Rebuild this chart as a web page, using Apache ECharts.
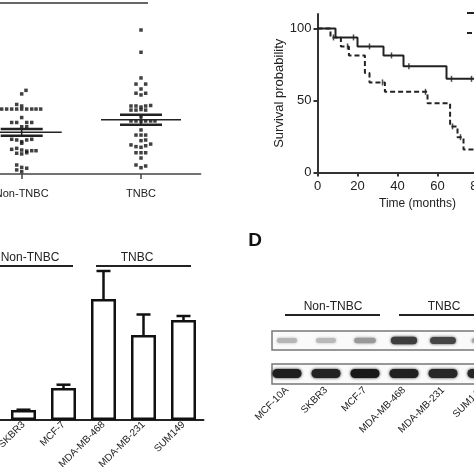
<!DOCTYPE html>
<html><head><meta charset="utf-8">
<script src="https://cdn.jsdelivr.net/npm/echarts@6/dist/echarts.min.js"></script>
<style>html,body{margin:0;padding:0;background:#fff}#c{width:474px;height:474px}</style>
</head><body><div id="c"></div>
<script>
// ---------- Panel A: scatter (relative expression) ----------
const groupsA = ['Non-TNBC', 'TNBC'];
// [jitter (fraction of group spacing), value]
const nonTnbcPoints = [
  [0, 4.71], [0.036, 4.92], [-0.042, 4.09], [0, 4.0],
  [-0.168, 3.82], [-0.126, 3.82], [-0.084, 3.82], [-0.042, 3.82], [0, 3.82], [0.042, 3.82], [0.084, 3.82], [0.12, 3.82], [0.159, 3.82],
  [0, 3.32], [-0.084, 3.03], [-0.042, 3.03], [0.042, 3.03], [0.084, 3.03], [0, 2.78], [0.042, 2.78],
  [-0.084, 2.04], [-0.042, 2.0], [0, 1.9], [0.042, 2.0], [0.084, 2.04], [0, 1.81],
  [-0.084, 1.45], [-0.042, 1.51], [0, 1.41], [0.042, 1.35], [0.084, 1.37], [0.12, 1.37],
  [-0.042, 1.22], [0, 1.18], [0.042, 1.25],
  [-0.042, 0.53], [0, 0.39], [0.042, 0.34], [-0.042, 0.24], [0, 0.14]
];
const tnbcPoints = [
  [0, 8.47], [0, 7.16], [0, 5.65], [-0.042, 5.29], [0.039, 5.29], [0, 5.0],
  [-0.042, 4.75], [0, 4.65], [0.039, 4.75],
  [-0.084, 4.0], [-0.042, 4.0], [0, 3.94], [0.039, 4.0], [0.081, 4.03],
  [-0.084, 3.76], [-0.042, 3.76], [0, 3.79], [0.039, 3.76], [0, 3.37],
  [-0.084, 3.12], [-0.042, 3.12], [0, 3.09], [0.039, 3.12], [0.081, 3.12], [0.117, 3.12],
  [0, 2.59], [-0.042, 2.29], [0, 2.29], [0.039, 2.29], [0, 1.96], [0.039, 2.0],
  [-0.084, 1.71], [-0.042, 1.61], [0, 1.57], [0.039, 1.66], [0.081, 1.76],
  [-0.042, 1.25], [0, 1.25], [0.039, 1.25], [0, 0.94],
  [-0.042, 0.53], [0, 0.37], [0.039, 0.47]
];
const meansA = [2.45, 3.19];
const semsA = [0.2, 0.29];

// ---------- Panel B: Kaplan-Meier ----------
const kmSolid = [[0, 100], [9, 93.75], [20, 87.5], [33, 81.25], [43, 73.8], [64.5, 65], [100, 65]];
const kmDashed = [[0, 100], [6.5, 93.75], [11.7, 87.5], [15.7, 81.25], [23.7, 69], [26, 62.5], [33.7, 56], [55, 48], [66.3, 32], [70, 24.5], [73, 16], [100, 16]];
const censorSolid = [[18, 93.75], [26, 87.5], [37, 81.25], [45.7, 73.8], [67, 65], [77, 65]];
const censorDashed = [[8, 93.75], [15, 87.5], [32.5, 62.5], [54, 56], [67.5, 32], [71.5, 24.5]];
const kmYTicks = [0, 50, 100];
const kmNames = ['Non-TNBC', 'TNBC'];

// ---------- Panel C: bar chart ----------
const cellLinesC = ['MCF-10A', 'SKBR3', 'MCF-7', 'MDA-MB-468', 'MDA-MB-231', 'SUM149'];
const barValues = [1.0, 1.0, 3.2, 12.1, 8.5, 10.0];
const barErrors = [0.1, 0.03, 0.33, 2.8, 2.05, 0.4];

// ---------- Panel D: western blot ----------
const cellLinesD = ['MCF-10A', 'SKBR3', 'MCF-7', 'MDA-MB-468', 'MDA-MB-231', 'SUM149'];
const bandTarget = [0.22, 0.2, 0.36, 0.82, 0.78, 0.28];
const bandLoading = [0.97, 0.95, 1.0, 0.96, 0.93, 0.93];

const FONT = 'Liberation Sans, Arial, sans-serif';
const TXT = '#222';
const AX = '#333';

const chart = echarts.init(document.getElementById('c'), null, {renderer: 'canvas'});

function meanRender(params, api) {
  const c = api.value(0), m = api.value(1), s = api.value(2);
  const pm = api.coord([c, m]);
  const pu = api.coord([c, m + s]);
  const pl = api.coord([c, m - s]);
  const st = {stroke: '#222', lineWidth: 1.5};
  const st2 = {stroke: '#222', lineWidth: 2.5};
  return {type: 'group', children: [
    {type: 'line', shape: {x1: pm[0] - 40, y1: pm[1], x2: pm[0] + 40, y2: pm[1]}, style: st},
    {type: 'line', shape: {x1: pu[0] - 21, y1: pu[1], x2: pu[0] + 21, y2: pu[1]}, style: st2},
    {type: 'line', shape: {x1: pl[0] - 21, y1: pl[1], x2: pl[0] + 21, y2: pl[1]}, style: st2},
    {type: 'line', shape: {x1: pu[0], y1: pu[1], x2: pl[0], y2: pl[1]}, style: st}
  ]};
}
function errRender(params, api) {
  const i = api.value(0), v = api.value(1), e = api.value(2);
  const p0 = api.coord([i, v]);
  const p1 = api.coord([i, v + e]);
  const st = {stroke: '#111', lineWidth: 2.5};
  return {type: 'group', children: [
    {type: 'line', shape: {x1: p0[0], y1: p0[1], x2: p1[0], y2: p1[1]}, style: st},
    {type: 'line', shape: {x1: p1[0] - 7, y1: p1[1], x2: p1[0] + 7, y2: p1[1]}, style: st}
  ]};
}
function bandRender(params, api) {
  const i = api.value(0), row = api.value(1), k = api.value(2);
  const p = api.coord([i, row]);
  const w = row === 0 ? 29 : 18 + 10 * k;
  const h = row === 0 ? 9 : 4 + 4 * k;
  const g = Math.round(225 - 200 * k);
  const col = 'rgb(' + g + ',' + g + ',' + g + ')';
  return {type: 'rect', shape: {x: p[0] - w / 2, y: p[1] - h / 2, width: w, height: h, r: h / 2},
    style: {fill: col, shadowBlur: 3, shadowColor: col}};
}

const option = {
  animation: false,
  backgroundColor: '#fff',
  textStyle: {fontFamily: FONT, color: TXT},
  legend: {
    orient: 'vertical', left: 461, top: 2, itemWidth: 25, itemHeight: 10, itemGap: 8,
    data: kmNames, textStyle: {fontSize: 12, color: TXT, fontFamily: FONT}
  },
  grid: [
    {left: -37.95, right: 273.35, top: 4, bottom: 300, outerBoundsMode: 'none', containLabel: false},
    {left: 317.5, right: -43.5, top: 14, bottom: 301.5, outerBoundsMode: 'none', containLabel: false},
    {left: -36.5, right: 270.5, top: 260, bottom: 54, outerBoundsMode: 'none', containLabel: false},
    {left: 267.5, right: -27.5, top: 340.5, bottom: 100.5, outerBoundsMode: 'none', containLabel: false}
  ],
  xAxis: [
    {gridIndex: 0, type: 'value', min: 0.5, max: 2.5, splitLine: {show: false},
      axisLine: {lineStyle: {color: '#444', width: 1.5}},
      axisTick: {customValues: [1, 2], length: 5, lineStyle: {color: '#444', width: 1.5}},
      axisLabel: {customValues: [1, 2], margin: 14, fontSize: 11, color: TXT, fontFamily: FONT,
        formatter: v => groupsA[Math.round(v) - 1] || ''}},
    {gridIndex: 1, type: 'value', min: 0, max: 100, interval: 20, splitLine: {show: false},
      axisLine: {onZero: false, lineStyle: {color: AX, width: 2}},
      axisTick: {length: 4, lineStyle: {color: AX, width: 2}},
      axisLabel: {margin: 7, fontSize: 13, color: TXT, fontFamily: FONT},
      name: 'Time (months)', nameLocation: 'middle', nameGap: 25,
      nameTextStyle: {fontSize: 12, color: TXT, fontFamily: FONT}},
    {gridIndex: 2, type: 'category', data: cellLinesC, splitLine: {show: false},
      axisLine: {lineStyle: {color: '#222', width: 2}},
      axisTick: {show: false},
      axisLabel: {rotate: 45, margin: 3, padding: [24, 0, 0, 0], fontSize: 10, color: TXT, fontFamily: FONT, interval: 0}},
    {gridIndex: 3, type: 'category', data: cellLinesD, splitLine: {show: false},
      axisLine: {show: false}, axisTick: {show: false},
      axisLabel: {rotate: 45, margin: 15, padding: [8, 0, 0, 0], fontSize: 10, color: TXT, fontFamily: FONT, interval: 0}}
  ],
  yAxis: [
    {gridIndex: 0, type: 'value', min: 0, max: 10, show: false},
    {gridIndex: 1, type: 'value', min: 0, max: 110, interval: 50, splitLine: {show: false},
      axisLine: {show: true, onZero: false, lineStyle: {color: AX, width: 2}},
      axisTick: {show: true, customValues: kmYTicks, length: 4, lineStyle: {color: AX, width: 2}},
      axisLabel: {customValues: kmYTicks, margin: 6, fontSize: 13, color: TXT, fontFamily: FONT},
      name: 'Survival probability', nameLocation: 'middle', nameGap: 26,
      nameTextStyle: {fontSize: 13, color: TXT, fontFamily: FONT}},
    {gridIndex: 2, type: 'value', min: 0, max: 16, show: false},
    {gridIndex: 3, type: 'value', min: 0, max: 1, show: false}
  ],
  series: [
    {type: 'scatter', xAxisIndex: 0, yAxisIndex: 0, symbol: 'rect', symbolSize: 3.5,
      itemStyle: {color: '#111'}, data: nonTnbcPoints.map(p => [1 + p[0], p[1]])},
    {type: 'scatter', xAxisIndex: 0, yAxisIndex: 0, symbol: 'rect', symbolSize: 3.5,
      itemStyle: {color: '#111'}, data: tnbcPoints.map(p => [2 + p[0], p[1]])},
    {type: 'custom', xAxisIndex: 0, yAxisIndex: 0, renderItem: meanRender,
      data: meansA.map((m, i) => [i + 1, m, semsA[i]]), z: 5},

    {type: 'line', name: kmNames[0], xAxisIndex: 1, yAxisIndex: 1, step: 'end', symbol: 'none',
      lineStyle: {color: '#222', width: 2}, itemStyle: {color: '#222'}, data: kmSolid},
    {type: 'line', name: kmNames[1], xAxisIndex: 1, yAxisIndex: 1, step: 'end', symbol: 'none',
      lineStyle: {color: '#222', width: 2, type: [5, 3]}, itemStyle: {color: '#222'}, data: kmDashed},
    {type: 'scatter', xAxisIndex: 1, yAxisIndex: 1, symbol: 'rect', symbolSize: [1.5, 6],
      itemStyle: {color: '#222'}, data: censorSolid},
    {type: 'scatter', xAxisIndex: 1, yAxisIndex: 1, symbol: 'rect', symbolSize: [1.5, 6],
      itemStyle: {color: '#222'}, data: censorDashed},

    {type: 'bar', xAxisIndex: 2, yAxisIndex: 2, barWidth: 25, data: barValues,
      itemStyle: {color: '#fff', borderColor: '#111', borderWidth: 2.5}},
    {type: 'custom', xAxisIndex: 2, yAxisIndex: 2, renderItem: errRender, z: 5,
      data: barValues.map((v, i) => [i, v, barErrors[i]])},

    {type: 'custom', xAxisIndex: 3, yAxisIndex: 3, renderItem: bandRender, z: 5,
      data: bandTarget.map((k, i) => [i, 1, k]).concat(bandLoading.map((k, i) => [i, 0, k]))}
  ],
  graphic: [
    {type: 'line', shape: {x1: 0, y1: 3, x2: 148, y2: 3}, style: {stroke: '#333', lineWidth: 1.5}},
    {type: 'text', x: 30, y: 258, style: {text: 'Non-TNBC', font: '12px ' + FONT, fill: TXT, align: 'center', verticalAlign: 'middle'}},
    {type: 'line', shape: {x1: 0, y1: 266, x2: 73, y2: 266}, style: {stroke: '#222', lineWidth: 2}},
    {type: 'text', x: 137, y: 258, style: {text: 'TNBC', font: '12px ' + FONT, fill: TXT, align: 'center', verticalAlign: 'middle'}},
    {type: 'line', shape: {x1: 96, y1: 266, x2: 191, y2: 266}, style: {stroke: '#222', lineWidth: 2}},
    {type: 'text', x: 255, y: 241, style: {text: 'D', font: 'bold 19px ' + FONT, fill: '#111', align: 'center', verticalAlign: 'middle'}},
    {type: 'text', x: 333, y: 307, style: {text: 'Non-TNBC', font: '12px ' + FONT, fill: TXT, align: 'center', verticalAlign: 'middle'}},
    {type: 'line', shape: {x1: 285, y1: 315, x2: 380, y2: 315}, style: {stroke: '#222', lineWidth: 2}},
    {type: 'text', x: 444, y: 307, style: {text: 'TNBC', font: '12px ' + FONT, fill: TXT, align: 'center', verticalAlign: 'middle'}},
    {type: 'line', shape: {x1: 399, y1: 315, x2: 480, y2: 315}, style: {stroke: '#222', lineWidth: 2}},
    {type: 'rect', z: -1, shape: {x: 272, y: 331, width: 220, height: 19}, style: {fill: '#fafafa', stroke: '#777', lineWidth: 1.5}},
    {type: 'rect', z: -1, shape: {x: 272, y: 364, width: 220, height: 20}, style: {fill: '#fafafa', stroke: '#777', lineWidth: 1.5}}
  ]
};
chart.setOption(option);
</script>
</body></html>
